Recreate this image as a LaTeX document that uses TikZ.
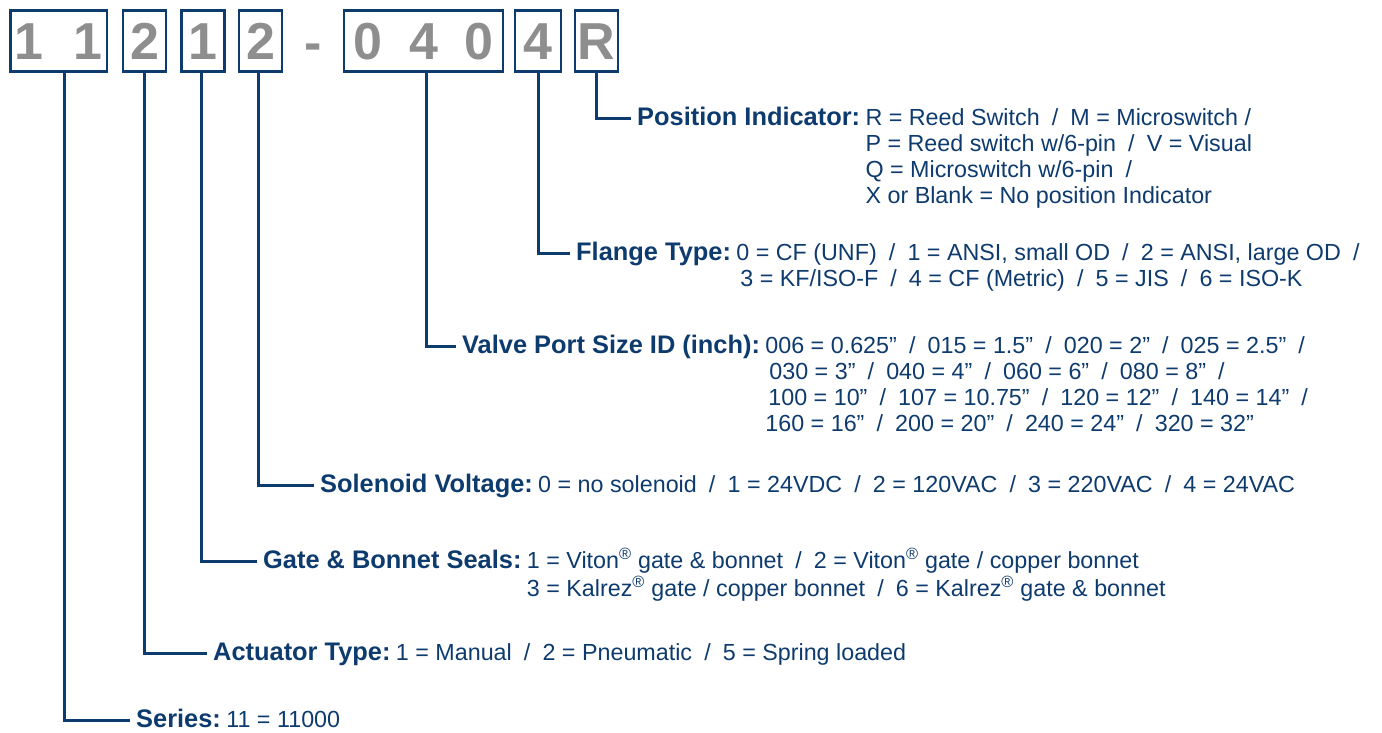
\documentclass[tikz,border=0pt]{standalone}
\usepackage{fontspec}
\setmainfont{Liberation Sans}
\usetikzlibrary{positioning}

\definecolor{navy}{HTML}{0E3B6E}
\definecolor{digitgray}{HTML}{8E8E8E}
\newcommand{\divd}{\hspace{0.52em}/\hspace{0.52em}}
\newcommand{\reg}{\textsuperscript{\textregistered}}

\begin{document}
\begin{tikzpicture}[
    x=1pt, y=-1pt,
    every node/.style={text=navy},
    digit/.style={text=digitgray, font=\fontsize{52}{52}\selectfont\bfseries},
    digitbox/.style={digit, draw=navy, line width=2.4pt, minimum height=61pt, minimum width=43pt,
        inner sep=0pt, text height=37pt, text depth=0pt},
    link/.style={draw=navy, line width=3pt},
    field/.style={anchor=west, inner xsep=6pt, inner ysep=0pt, text height=14.6pt, text depth=0pt,
        font=\fontsize{25.4}{26}\selectfont\bfseries},
    choices/.style={inner sep=0pt, font=\fontsize{23.3}{26}\selectfont}
]
\useasboundingbox (0,0) rectangle (1382,732);

% ============ PART NUMBER BOXES ============
\node[digitbox, minimum width=96.6pt] (b11) at (58.8, 41.1) {1\hspace{0.58em}1};
\node[digitbox] (bact) at (144.5, 41.1) {2};
\node[digitbox] (bseal) at (203, 41.1) {1};
\node[digitbox] (bsol) at (260.5, 41.1) {2};
\node[digit, anchor=base] (dash) at (313, 60) {-};
\node[digitbox, minimum width=158.6pt] (bport) at (423.5, 41.1) {0\hspace{0.52em}4\hspace{0.52em}0};
\node[digitbox, minimum width=45.6pt] (bflg) at (538, 41.1) {4};
\node[digitbox] (bpos) at (596.5, 41.1) {R};

% ============ FIELD LABELS ============
\node[field] (posLbl) at (631, 118) {Position Indicator:};
\node[choices, base right=-1pt of posLbl] (posOpt) {\begin{tabular}[t]{@{}l@{}}
    R = Reed Switch\divd M = Microswitch /\\
    P = Reed switch w/6-pin\divd V = Visual\\
    Q = Microswitch w/6-pin\divd\\
    X or Blank = No position Indicator
\end{tabular}};

\node[field] (flgLbl) at (570, 253) {Flange Type:};
\node[choices, base right=-1pt of flgLbl] (flgOpt) {\begin{tabular}[t]{@{}l@{}}
    0 = CF (UNF)\divd 1 = ANSI, small OD\divd 2 = ANSI, large OD\divd\\
    \hspace{4pt}3 = KF/ISO-F\divd 4 = CF (Metric)\divd 5 = JIS\divd 6 = ISO-K
\end{tabular}};

\node[field] (valLbl) at (456, 346) {Valve Port Size ID (inch):};
\node[choices, base right=-1pt of valLbl] (valOpt) {\begin{tabular}[t]{@{}l@{}}
    006 = 0.625”\divd 015 = 1.5”\divd 020 = 2”\divd 025 = 2.5”\divd\\
    \hspace{4pt}030 = 3”\divd 040 = 4”\divd 060 = 6”\divd 080 = 8”\divd\\
    \hspace{3pt}100 = 10”\divd 107 = 10.75”\divd 120 = 12”\divd 140 = 14”\divd\\
    160 = 16”\divd 200 = 20”\divd 240 = 24”\divd 320 = 32”
\end{tabular}};

\node[field] (solLbl) at (314, 485) {Solenoid Voltage:};
\node[choices, base right=-1pt of solLbl] (solOpt)
    {0 = no solenoid\divd 1 = 24VDC\divd 2 = 120VAC\divd 3 = 220VAC\divd 4 = 24VAC};

\node[field] (gatLbl) at (257, 561) {Gate \& Bonnet Seals:};
\node[choices, base right=-1pt of gatLbl] (gatOpt) {\begin{tabular}[t]{@{}l@{}}
    1 = Viton\reg{} gate \& bonnet\divd 2 = Viton\reg{} gate / copper bonnet\\
    3 = Kalrez\reg{} gate / copper bonnet\divd 6 = Kalrez\reg{} gate \& bonnet
\end{tabular}};

\node[field] (actLbl) at (207, 653) {Actuator Type:};
\node[choices, base right=-1pt of actLbl] (actOpt)
    {1 = Manual\divd 2 = Pneumatic\divd 5 = Spring loaded};

\node[field] (serLbl) at (130, 720) {Series:};
\node[choices, base right=-1pt of serLbl] (serOpt) {11 = 11000};

% ============ LEADER LINES ============
\draw[link] (bpos.south) |- (posLbl.west);
\draw[link] (bflg.south) |- (flgLbl.west);
\draw[link] ([xshift=2.5pt]bport.south) |- (valLbl.west);
\draw[link] ([xshift=-2.5pt]bsol.south) |- (solLbl.west);
\draw[link] ([xshift=-2pt]bseal.south) |- (gatLbl.west);
\draw[link] (bact.south) |- (actLbl.west);
\draw[link] ([xshift=5.2pt]b11.south) |- (serLbl.west);

\end{tikzpicture}
\end{document}
